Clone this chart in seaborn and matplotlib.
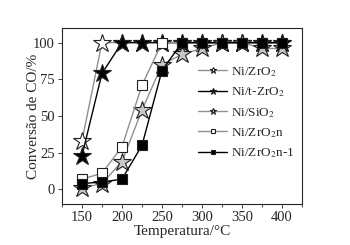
import matplotlib
matplotlib.use("Agg")
import matplotlib.pyplot as plt
import seaborn as sns
import pandas as pd
from matplotlib.ticker import MultipleLocator

temps = [150, 175, 200, 225, 250, 275, 300, 325, 350, 375, 400]
ni_zro2 = [33, 100, 100, 100, 100, 100, 100, 100, 100, 100, 100]
ni_t_zro2 = [23, 79, 100, 100, 100, 100, 100, 100, 100, 100, 100]
ni_sio2 = [1, 4, 19, 54, 85, 92, 96, 100, 100, 96, 96]
ni_zro2n = [7, 11, 29, 71, 100, 100, 100, 100, 100, 100, 100]
ni_zro2n_1 = [4, 5, 7, 30, 81, 100, 100, 100, 100, 100, 100]

labels = ["Ni/ZrO$_2$", "Ni/t-ZrO$_2$", "Ni/SiO$_2$", "Ni/ZrO$_2$n", "Ni/ZrO$_2$n-1"]

sns.set_style("ticks")
plt.rcParams["font.family"] = ["Liberation Serif", "DejaVu Serif"]
plt.rcParams["mathtext.fontset"] = "stix"

fig = plt.figure(figsize=(3.5, 2.45), dpi=100)
ax = fig.add_axes([0.177, 0.167, 0.686, 0.719])

series = [
    (ni_zro2, labels[0], "#909090", "*", "white", 13.5),
    (ni_t_zro2, labels[1], "black", "*", "black", 13.5),
    (ni_sio2, labels[2], "#909090", "*", "#c8c8c8", 13.5),
    (ni_zro2n, labels[3], "#909090", "s", "white", 7.5),
    (ni_zro2n_1, labels[4], "black", "s", "black", 7.5),
]

for vals, lab, lc, mk, mfc, ms in series:
    df = pd.DataFrame({"T": temps, "v": vals})
    sns.lineplot(data=df, x="T", y="v", ax=ax, color=lc, marker=mk,
                 markerfacecolor=mfc, markeredgecolor="#202020", markersize=ms,
                 markeredgewidth=0.8, linewidth=1.0, label=lab)

ax.set_xlim(125, 425)
ax.set_ylim(-10, 110)
ax.xaxis.set_major_locator(MultipleLocator(50))
ax.xaxis.set_minor_locator(MultipleLocator(25))
ax.yaxis.set_major_locator(MultipleLocator(25))
ax.tick_params(axis="both", which="major", labelsize=10.5, length=3, width=0.6,
               direction="out", pad=2)
ax.tick_params(axis="both", which="minor", length=2, width=0.6, direction="out")
for s in ax.spines.values():
    s.set_linewidth(0.8)
    s.set_visible(True)
ax.set_xlabel("Temperatura/°C", fontsize=11, labelpad=1)
ax.set_ylabel("Conversão de CO/%", fontsize=11)
ax.yaxis.set_label_coords(-0.092, 0.5)

leg = ax.legend(loc="upper left", bbox_to_anchor=(0.567, 0.79), frameon=False,
                fontsize=9.5, markerscale=0.35, handlelength=2.2, handletextpad=0.3,
                labelspacing=0.5, borderaxespad=0, borderpad=0)

fig.savefig("out.png", dpi=100)
